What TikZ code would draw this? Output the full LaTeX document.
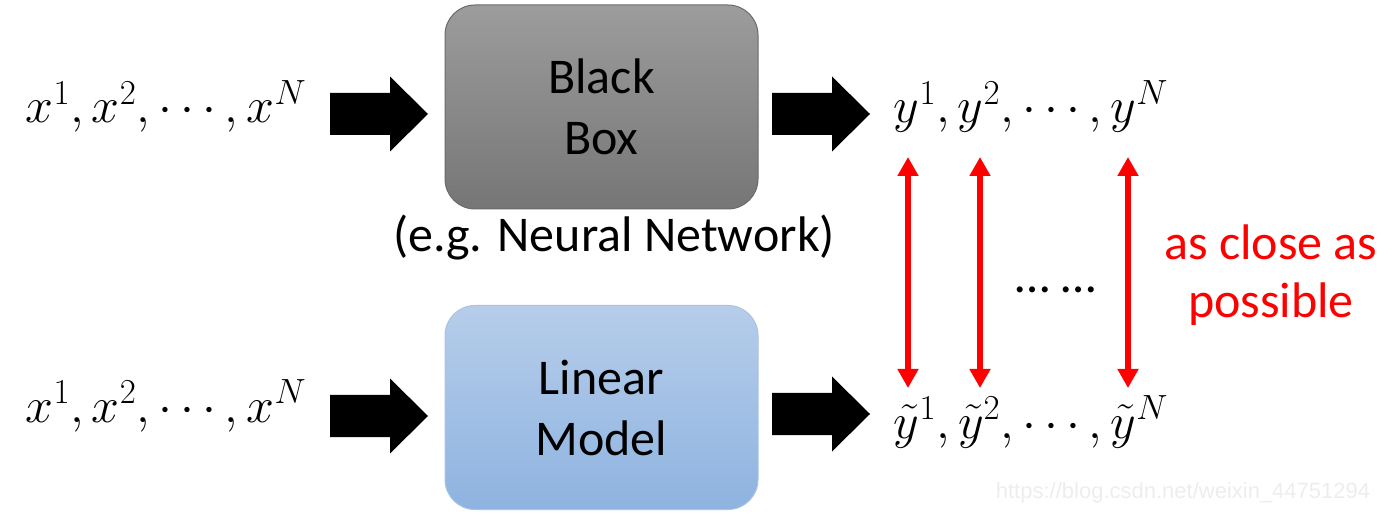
\RequirePackage{fix-cm}
\documentclass[tikz,border=0pt]{standalone}
\usepackage{fontspec}
\setmainfont{Carlito}
\newfontfamily\wmfont{Liberation Sans}
\usetikzlibrary{arrows.meta}
\definecolor{bbtop}{HTML}{9C9C9C}
\definecolor{bbbot}{HTML}{767676}
\definecolor{bbedge}{HTML}{6A6A6A}
\definecolor{lmtop}{HTML}{B6CDEA}
\definecolor{lmbot}{HTML}{8EB3E0}
\definecolor{lmedge}{HTML}{A9C3E5}
\definecolor{wm}{HTML}{EDEDED}
\tikzset{
  bigtext/.style={font=\fontsize{50}{61}\selectfont},
  mathtext/.style={font=\fontsize{50}{60}\selectfont, inner sep=0pt},
  modelbox/.style={bigtext, align=center, rounded corners=30pt, minimum width=313pt, minimum height=204pt, line width=1pt, inner sep=0pt},
  blackbox/.style={modelbox, draw=bbedge, top color=bbtop, bottom color=bbbot},
  linbox/.style={modelbox, draw=lmedge, top color=lmtop, bottom color=lmbot},
  blockarr/.pic={\fill[black] (0,-21) -- (60,-21) -- (60,-37.5) -- (98,0) -- (60,37.5) -- (60,21) -- (0,21) -- cycle;},
  closearrow/.style={draw=red, line width=6pt, {Triangle[width=20pt,length=19pt]}-{Triangle[width=20pt,length=19pt]}},
  redtext/.style={bigtext, text=red, align=center, inner sep=0pt}
}
\begin{document}
\begin{tikzpicture}[x=1pt,y=-1pt]
\useasboundingbox (0,0) rectangle (1400,518);
% top row
\node[mathtext, anchor=base] (xin1) at (166,123) {$x^1,x^2,\cdots,x^N$};
\node[blackbox] (bb) at (601.5,107) {Black\\Box};
\node[mathtext, anchor=base] (yout) at (1031,123) {$y^1,y^2,\cdots,y^N$};
\node[bigtext, anchor=base, inner sep=0pt] (eg) at (614,252) {(e.g. Neural Network)};
% bottom row
\node[mathtext, anchor=base] (xin2) at (166,422) {$x^1,x^2,\cdots,x^N$};
\node[linbox] (lm) at (601.5,407.5) {Linear\\Model};
\node[mathtext, anchor=base] (ytil) at (1031,438) {$\tilde{y}^1,\tilde{y}^2,\cdots,\tilde{y}^N$};
% block arrows
\pic at (330,114) {blockarr};
\pic at (772,114) {blockarr};
\pic at (330,416) {blockarr};
\pic at (772,414) {blockarr};
% red arrows
\coordinate (a1) at (908,157); \coordinate (b1) at (908,388);
\coordinate (a2) at (980,157); \coordinate (b2) at (980,388);
\coordinate (a3) at (1128,157); \coordinate (b3) at (1128,388);
\draw[closearrow] (a1) -- (b1);
\draw[closearrow] (a2) -- (b2);
\draw[closearrow] (a3) -- (b3);
\node[bigtext, anchor=base, inner sep=0pt] (dots) at (1056,293) {… …};
\node[redtext, anchor=base] (close1) at (1271,260) {as close as};
\node[redtext, anchor=base] (close2) at (1271,318) {possible};
% watermark
\node[text=wm, font=\wmfont\fontsize{22}{26}\selectfont, anchor=base, inner sep=0pt] (wmk) at (1183,498) {https://blog.csdn.net/weixin\_44751294};
\end{tikzpicture}
\end{document}
